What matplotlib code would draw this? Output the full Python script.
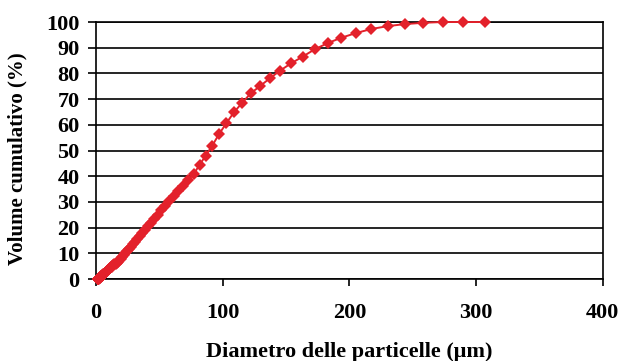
import numpy as np
import matplotlib.pyplot as plt

plt.rcParams['font.family'] = ['Liberation Serif', 'DejaVu Serif']
plt.rcParams['font.weight'] = 'bold'

# diametro delle particelle (um) e volume cumulativo (%)
diametro = [1.4, 1.5, 1.6, 1.7, 1.8, 1.9, 2.0, 2.2, 2.3, 2.4, 2.6, 2.7, 2.9,
            3.1, 3.2, 3.4, 3.6, 3.9, 4.1, 4.3, 4.6, 4.9, 5.1, 5.4, 5.8, 6.1,
            6.5, 6.8, 7.2, 7.7, 8.1, 8.6, 9.1, 9.7, 10.3, 10.9, 11.5, 12.2,
            12.9, 13.7, 14.5, 15.4, 16.3, 17.2, 18.3, 19.4, 20.5, 21.7, 23.0,
            24.4, 25.8, 27.3, 29.0, 30.7, 32.5, 34.4, 36.5, 38.6, 40.9, 43.4,
            45.9, 48.6, 51.5, 54.6, 57.8, 61.2, 64.9, 68.7, 72.8, 77.1, 81.7,
            86.5, 91.7, 97.1, 102.8, 108.9, 115.4, 122.2, 129.5, 137.2, 145.3,
            153.9, 163.0, 172.7, 182.9, 193.7, 205.2, 217.4, 230.3, 243.9,
            258.4, 273.7, 289.9, 307.1]
volume = [0.1, 0.1, 0.1, 0.2, 0.2, 0.2, 0.3, 0.3, 0.4, 0.4, 0.5, 0.5, 0.6,
          0.7, 0.7, 0.8, 0.9, 1.0, 1.1, 1.2, 1.3, 1.4, 1.5, 1.6, 1.8, 1.9,
          2.1, 2.3, 2.5, 2.7, 2.9, 3.1, 3.4, 3.6, 3.9, 4.2, 4.5, 4.8,
          5.1, 5.4, 5.7, 6.0, 6.4, 6.8, 7.3, 7.9, 8.5, 9.2, 10.0,
          10.8, 11.6, 12.5, 13.5, 14.5, 15.6, 16.7, 17.9, 19.2, 20.6, 22.0,
          23.5, 25.1, 26.8, 28.5, 30.3, 32.2, 34.2, 36.3, 38.5, 40.9, 44.4,
          48.0, 51.9, 56.4, 60.6, 64.9, 68.6, 72.3, 75.1, 78.1, 81.1,
          83.9, 86.5, 89.4, 91.8, 93.9, 95.7, 97.3, 98.4, 99.2,
          99.7, 100.0, 100.0, 100.0]

x_ticks = [0, 100, 200, 300, 400]
y_ticks = list(range(0, 101, 10))

fig = plt.figure(figsize=(6.2, 3.61), dpi=100)
ax = fig.add_axes([0.155, 0.227, 0.817, 0.712])

ax.plot(diametro, volume, color='#e3212b', linewidth=1.4, marker='D',
        markersize=6.5, markeredgewidth=0, clip_on=False, zorder=3)

ax.set_xlim(0, 400)
ax.set_ylim(0, 100)
ax.set_xticks(x_ticks)
ax.set_yticks(y_ticks)
ax.grid(axis='y', color='black', linewidth=1.2)
ax.set_axisbelow(True)
for s in ax.spines.values():
    s.set_linewidth(1.2)

ax.tick_params(axis='x', direction='out', length=5, width=1.2, pad=12,
               labelsize=16)
ax.tick_params(axis='y', direction='out', length=6, width=1.2, pad=6,
               labelsize=16)

ax.set_xlabel('Diametro delle particelle (\u03bcm)', fontsize=16,
              fontweight='bold', labelpad=14)
ax.set_ylabel('Volume cumulativo (%)', fontsize=15, fontweight='bold')
ax.yaxis.set_label_coords(-0.135, 0.47)

fig.savefig('out.png', dpi=100)
